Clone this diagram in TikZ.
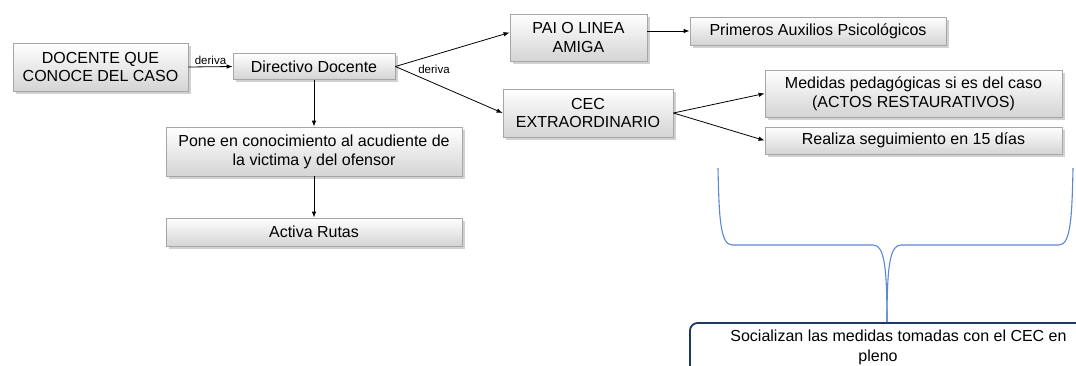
\documentclass[tikz,border=0pt]{standalone}
\usepackage{fontspec}
\setmainfont{Liberation Sans}
\usetikzlibrary{arrows.meta,shadows}
\definecolor{boxborder}{HTML}{A6A6A6}
\definecolor{boxbottom}{HTML}{D4D4D4}
\definecolor{bracecol}{HTML}{5B87D6}
\definecolor{navy}{HTML}{1F3864}
\tikzset{
  gbox/.style={draw=boxborder, line width=0.8pt, top color=white, bottom color=boxbottom,
    drop shadow={shadow xshift=2.5pt, shadow yshift=-2.5pt, fill=gray!45, opacity=0.8},
    align=center, inner sep=2pt, font=\fontsize{16}{18.8}\selectfont},
  arr/.style={-{Latex[length=6pt,width=4.5pt]}, line width=0.8pt, black},
  lbl/.style={font=\fontsize{11.5}{12}\selectfont, inner sep=1pt},
  bracestyle/.style={draw=bracecol, line width=1.1pt},
  socbox/.style={draw=navy, line width=1.8pt, rounded corners=8pt, fill=white}
}
\begin{document}
\begin{tikzpicture}[x=1pt,y=-1pt]
\useasboundingbox (0,0) rectangle (1076,365);
\fill[white] (0,0) rectangle (1076,365);

\node[gbox, minimum width=175pt, minimum height=48pt] (docente) at (100.5,67) {DOCENTE QUE\\CONOCE DEL CASO};
\node[gbox, minimum width=162pt, minimum height=26pt] (directivo) at (314,66.5) {Directivo Docente};
\node[gbox, minimum width=296pt, minimum height=49pt] (pone) at (314,151.5) {Pone en conocimiento al acudiente de\\la victima y del ofensor};
\node[gbox, minimum width=296pt, minimum height=28pt] (activa) at (314,232) {Activa Rutas};
\node[gbox, minimum width=137pt, minimum height=47pt] (pai) at (578.5,37.5) {PAI O LINEA\\AMIGA};
\node[gbox, minimum width=256pt, minimum height=28pt] (primeros) at (818,31) {Primeros Auxilios Psicológicos};
\node[gbox, minimum width=170pt, minimum height=48pt] (cec) at (588,113) {CEC\\EXTRAORDINARIO};
\node[gbox, minimum width=297pt, minimum height=47pt] (medidas) at (913.5,93.5) {Medidas pedagógicas si es del caso\\(ACTOS RESTAURATIVOS)};
\node[gbox, minimum width=297pt, minimum height=27pt] (realiza) at (913.5,140.5) {Realiza seguimiento en 15 días};

\draw[arr] (docente.east) -- node[lbl, above=1pt] {deriva} (directivo.west);
\draw[arr] (directivo.south) -- (pone.north);
\draw[arr] (pone.south) -- (activa.north);
\draw[arr] (directivo.east) -- ([yshift=5pt]pai.west);
\draw[arr] (directivo.east) -- (cec.west);
\node[lbl] (deriva2) at (434,69) {deriva};
\draw[arr] (pai.east |- primeros.west) -- (primeros.west);
\draw[arr] (cec.east) -- (medidas.west);
\draw[arr] (cec.east) -- (realiza.west);

% bottom box (cut off by the page)
\node[socbox, minimum width=400pt, minimum height=70pt, anchor=north west] (soc) at (689,322) {};
\node[font=\fontsize{16}{20}\selectfont, align=center, anchor=north, inner sep=0pt] (soctext) at (898.5,330)
  {Socializan las medidas tomadas con el CEC en\\pleno\hspace*{41pt}};

% brace
\coordinate (bl) at (718,168);
\coordinate (br) at (1073,168);
\coordinate (tip) at (887,322);
\draw[bracestyle] (bl) .. controls (719,215) and (720,245) .. (732,245)
  -- (873,245) .. controls (884,245) and (887,265) .. (tip);
\draw[bracestyle] (br) .. controls (1072,215) and (1071,245) .. (1059,245)
  -- (901,245) .. controls (890,245) and (887,265) .. (tip);
\end{tikzpicture}
\end{document}
